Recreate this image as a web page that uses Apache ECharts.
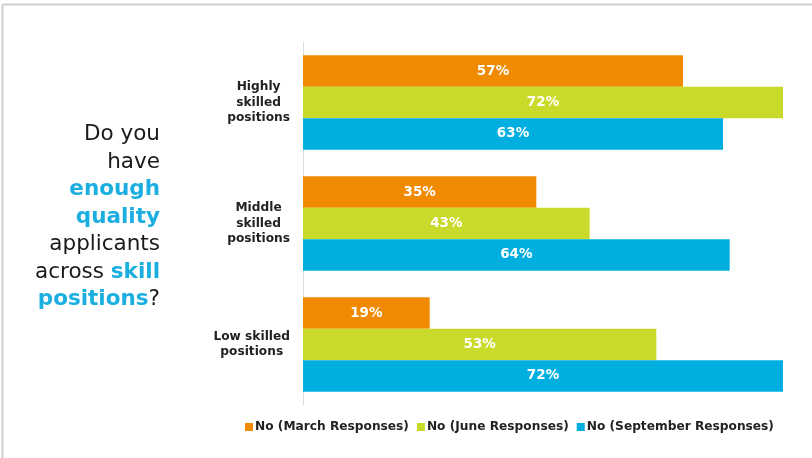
<!DOCTYPE html>
<html>
<head>
<meta charset="utf-8">
<script src="https://cdn.jsdelivr.net/npm/echarts@6/dist/echarts.min.js"></script>
<style>
  html, body { margin: 0; padding: 0; background: #fff; }
  #chart { width: 812px; height: 458px; }
</style>
</head>
<body>
<div id="chart"></div>
<script>
// data
const categories = ['Highly\nskilled\npositions', 'Middle\nskilled\npositions', 'Low skilled\npositions']
const seriesNames = ['No (March Responses)', 'No (June Responses)', 'No (September Responses)']
const marchValues = [57, 35, 19]
const juneValues = [72, 43, 53]
const septemberValues = [63, 64, 72]
const seriesColors = ['#F08A00', '#CADA2A', '#00AFE0']

const FONT = 'DejaVu Sans'

const chart = echarts.init(document.getElementById('chart'))

const makeSeries = (name, data, color) => {
  return {
    name: name,
    type: 'bar',
    data: data,
    barGap: '0%',
    barCategoryGap: '22%',
    itemStyle: { color: color },
    label: {
      show: true,
      position: 'inside',
      formatter: '{c}%',
      color: '#fff',
      fontFamily: FONT,
      fontWeight: 'bold',
      fontSize: 13.5
    }
  }
}

const option = {
  animation: false,
  grid: { left: 303, right: 9, top: 42, height: 363 },
  legend: {
    bottom: 20,
    left: 240,
    icon: 'rect',
    itemWidth: 8,
    itemHeight: 8,
    itemGap: 8,
    textStyle: {
      fontFamily: FONT,
      fontWeight: 'bold',
      fontSize: 12.2,
      color: '#222',
      padding: [0, 0, 0, -3]
    },
    data: seriesNames
  },
  xAxis: {
    type: 'value',
    min: 0,
    max: 75,
    show: false
  },
  yAxis: {
    type: 'category',
    inverse: true,
    data: categories,
    axisLine: { show: true, lineStyle: { color: '#dddddd', width: 1 } },
    axisTick: { show: false },
    axisLabel: {
      margin: 13,
      formatter: (value) => value.split('\n').map(line => '{c|' + line + '}').join('\n'),
      rich: {
        c: {
          align: 'center',
          fontFamily: FONT,
          fontWeight: 'bold',
          fontSize: 12.2,
          lineHeight: 15.5,
          color: '#222'
        }
      }
    }
  },
  graphic: [
    {
      type: 'line',
      shape: { x1: 2.5, y1: 4.5, x2: 812, y2: 4.5 },
      style: { stroke: '#cfcfcf', lineWidth: 2 }
    },
    {
      type: 'line',
      shape: { x1: 2.5, y1: 4.5, x2: 2.5, y2: 458 },
      style: { stroke: '#cfcfcf', lineWidth: 2 }
    },
    {
      type: 'text',
      x: 160,
      y: 121,
      style: {
        align: 'right',
        verticalAlign: 'top',
        text: '{n|Do you}\n{n|have}\n{b|enough}\n{b|quality}\n{n|applicants}\n{n|across }{b|skill}\n{b|positions}{n|?}',
        rich: {
          n: { fontFamily: FONT, fontSize: 21.5, lineHeight: 27.5, fill: '#1a1a1a' },
          b: { fontFamily: FONT, fontWeight: 'bold', fontSize: 21.5, lineHeight: 27.5, fill: '#1AAFE0' }
        }
      }
    }
  ],
  series: [
    makeSeries(seriesNames[0], marchValues, seriesColors[0]),
    makeSeries(seriesNames[1], juneValues, seriesColors[1]),
    makeSeries(seriesNames[2], septemberValues, seriesColors[2])
  ]
}

chart.setOption(option)
</script>
</body>
</html>
